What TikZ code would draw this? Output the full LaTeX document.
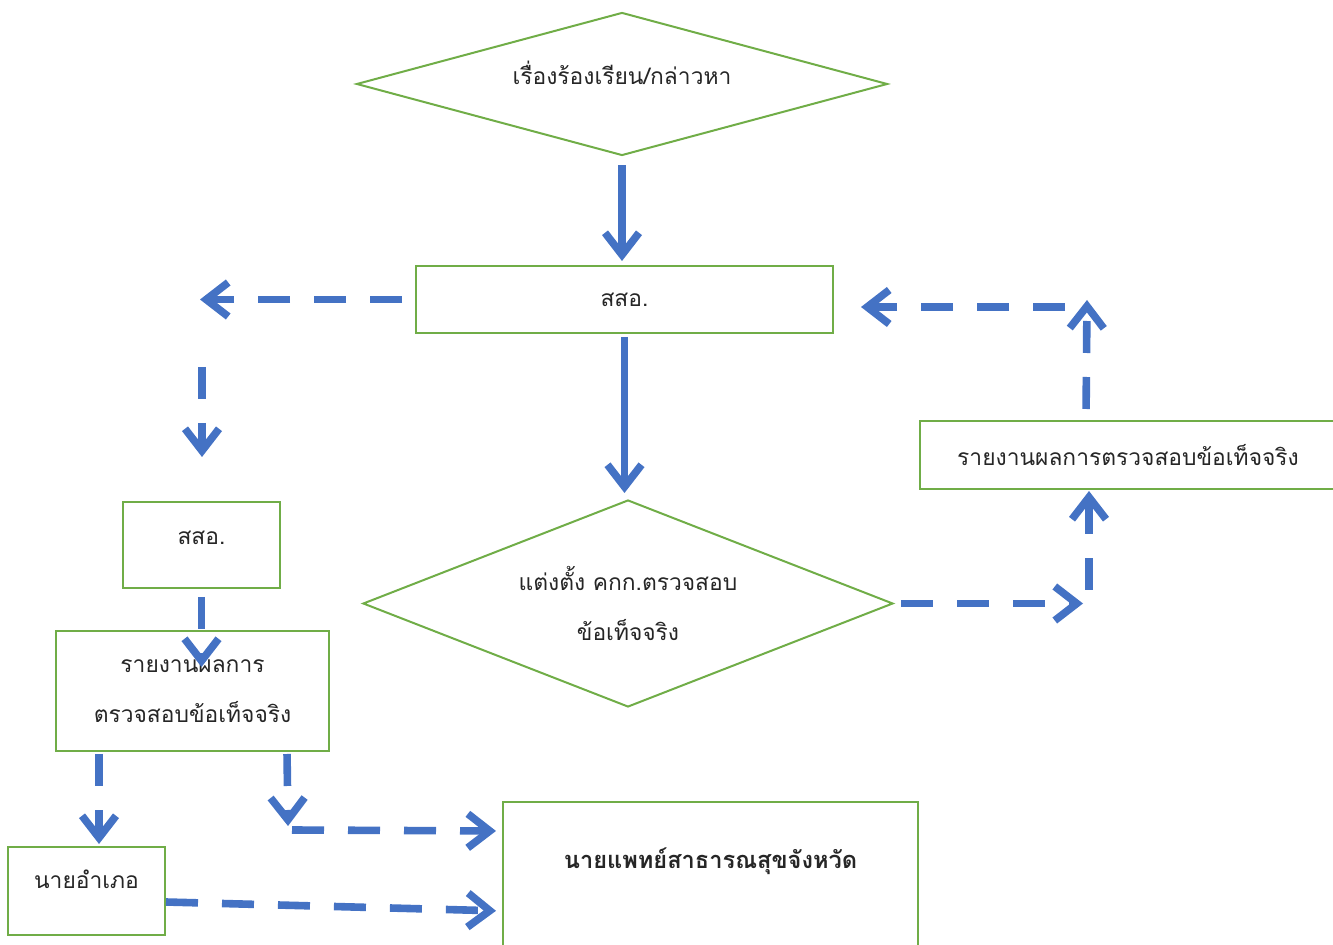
\documentclass[tikz,border=0pt]{standalone}
\usepackage{fontspec}
\newfontfamily\thai[Script=Thai]{Loma}
\usetikzlibrary{shapes.geometric,arrows.meta,calc}
\definecolor{gr}{HTML}{70AD47}
\definecolor{bl}{HTML}{4472C4}
\begin{document}
\begin{tikzpicture}[x=0.5pt,y=-0.5pt,
  every node/.style={font=\thai\fontsize{11.4}{25}\selectfont, text=black!85},
  box/.style={draw=gr, line width=1pt, rectangle, inner sep=0pt, align=center},
  dia/.style={draw=gr, line width=1pt, diamond, inner sep=0pt, align=center},
  arr/.style={draw=bl, line width=3.8pt, -{Straight Barb[length=11pt,width=17pt]}},
  darr/.style={arr, dash pattern=on 16pt off 12pt}]
\useasboundingbox (0,0) rectangle (1333,945);

% nodes
\node[dia, aspect=3.71, minimum width=265.5pt, minimum height=71.5pt, text height=9pt, text depth=8pt] (d1) at (622,84) {เรื่องร้องเรียน/กล่าวหา};
\node[box, minimum width=208.5pt, minimum height=33.5pt] (s1) at (624.5,299.5) {สสอ.};
\node[dia, aspect=2.56, minimum width=265pt, minimum height=103.5pt] (d2) at (628,603.5) {แต่งตั้ง คกก.ตรวจสอบ\\ข้อเท็จจริง};
\node[box, minimum width=208pt, minimum height=34pt] (rR) at (1128,455) {รายงานผลการตรวจสอบข้อเท็จจริง};
\node[box, minimum width=78.5pt, minimum height=43pt, text height=10pt, text depth=10pt] (s2) at (201.5,545) {สสอ.};
\node[box, minimum width=136.5pt, minimum height=60pt] (r2) at (192.5,691) {รายงานผลการ\\ตรวจสอบข้อเท็จจริง};
\node[box, minimum width=78.5pt, minimum height=44pt, text height=10pt, text depth=13pt] (nA) at (86.5,891) {นายอำเภอ};
\node[box, minimum width=207.5pt, minimum height=79pt, text height=10pt, text depth=23pt, font=\thai\bfseries\fontsize{11.8}{25}\selectfont] (bot) at (710.5,881) {นายแพทย์สาธารณสุขจังหวัด};

% helper coordinates
\coordinate (cL) at (200,299.5);
\coordinate (cD) at (202,367);
\coordinate (r2a) at ($(r2.south west)+(44,0)$);
\coordinate (r2b) at ($(r2.south west)+(232,0)$);
\coordinate (r2c) at (288,826);
\coordinate (r2d) at (292,830);
\coordinate (botA) at ($(bot.north west)+(0,30)$);
\coordinate (nAe) at ($(nA.east)+(0,11)$);
\coordinate (botB) at ($(bot.north west)+(0,110)$);
\coordinate (cR) at (1083,603.5);
\coordinate (cU) at (1089,590);
\coordinate (rRa) at ($(rR.north west)+(167,0)$);
\coordinate (cT) at (1087,300);
\coordinate (cT2) at (1065,307);

% solid connectors
\draw[arr, shorten <=4.5pt, shorten >=2pt] (d1.south) -- (d1.south |- s1.north);
\draw[arr, shorten <=1.5pt, shorten >=3pt] (s1.south) -- (s1.south |- d2.north);

% dashed connectors
\draw[darr, shorten <=6.5pt] (s1.west) -- (cL);
\draw[darr, shorten >=22pt] (cD) -- (cD |- s2.north);
\draw[darr, shorten <=4pt, shorten >=-18.5pt] (s2.south) -- (s2.south |- r2.north);
\draw[darr, shorten <=1pt, shorten >=1pt] (r2a) -- (r2a |- nA.north);
\draw[darr, shorten <=1pt] (r2b) -- (r2c);
\draw[darr, shorten >=3pt] (r2d) -- (botA);
\draw[darr, shorten >=3pt] (nAe) -- (botB);
\draw[darr, shorten <=3.5pt] (d2.east) -- (cR);
\draw[darr, shorten >=0.5pt] (cU) -- (cU |- rR.south);
\draw[darr, shorten <=5.5pt] (rRa) -- (cT);
\draw[darr, shorten >=13.5pt] (cT2) -- (cT2 -| s1.east);
\end{tikzpicture}
\end{document}
